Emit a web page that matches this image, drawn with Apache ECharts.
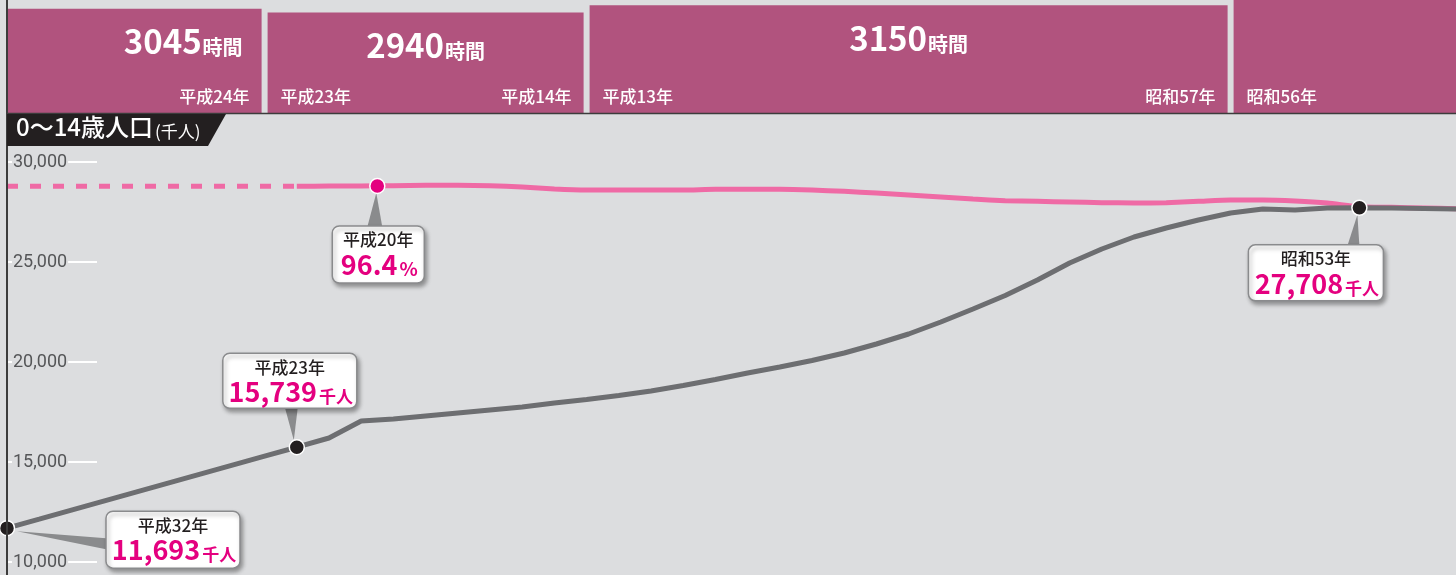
<!DOCTYPE html>
<html lang="ja">
<head>
<meta charset="UTF-8">
<title>0～14歳人口と授業時数</title>
<script src="https://cdn.jsdelivr.net/npm/echarts@6/dist/echarts.min.js"></script>
<style>
    html, body { margin: 0; padding: 0; background: #dcdddf; }
    #main { width: 1456px; height: 575px; }
</style>
</head>
<body>
<div id="main"></div>
<script>
// 0～14歳人口（千人）左が新しい年
var popYears = [2020, 2019, 2018, 2017, 2016, 2015, 2014, 2013, 2012, 2011,
    2010, 2009, 2008, 2007, 2006, 2005, 2004, 2003, 2002, 2001,
    2000, 1999, 1998, 1997, 1996, 1995, 1994, 1993, 1992, 1991,
    1990, 1989, 1988, 1987, 1986, 1985, 1984, 1983, 1982, 1981,
    1980, 1979, 1978, 1977, 1976, 1975];
var popValues = [11693, 12140, 12590, 13040, 13490, 13940, 14390, 14840, 15290, 15739,
    16200, 17050, 17150, 17300, 17450, 17600, 17750, 17950, 18125, 18325,
    18550, 18825, 19125, 19450, 19750, 20075, 20450, 20900, 21400, 22000,
    22650, 23325, 24100, 24950, 25650, 26250, 26700, 27100, 27450, 27650,
    27600, 27700, 27708, 27700, 27675, 27650];

// ピンクの線（%）実績
var rateYears = [2011, 2010, 2009, 2008, 2007, 2006, 2005, 2004, 2003, 2002,
    2001, 2000, 1999, 1998, 1997, 1996, 1995, 1994, 1993, 1992,
    1991, 1990, 1989, 1988, 1987, 1986, 1985, 1984, 1983, 1982,
    1981, 1980, 1979, 1978, 1977, 1976, 1975];
var rateValues = [96.35, 96.4, 96.4, 96.45, 96.5, 96.5, 96.45, 96.25, 95.95, 95.8,
    95.8, 95.8, 95.8, 95.9, 95.9, 95.9, 95.8, 95.6, 95.35, 95.05,
    94.75, 94.45, 94.2, 94.1, 94.0, 93.9, 93.85, 93.9, 94.1, 94.3,
    94.3, 94.15, 93.85, 93.3, 93.2, 93.1, 93.0];
// 点線部分
var rateProjYears = [2020, 2011];
var rateProjValues = [96.35, 96.35];

// 吹き出し
var popMarkYears = [2020, 2011, 1978];
var popMarkValues = [11693, 15739, 27708];
var popMarkNames = ['平成32年', '平成23年', '昭和53年'];
var rateMarkYears = [2008.5];
var rateMarkValues = [96.4];
var rateMarkNames = ['平成20年'];

// 授業時数の期間
var periodStart = [2021, 2012, 2002, 1982];
var periodEnd = [2012, 2002, 1982, 1972];
var periodHours = [3045, 2940, 3150, 3535];
var periodFrom = ['', '平成23年', '平成13年', '昭和56年'];
var periodTo = ['平成24年', '平成14年', '昭和57年', ''];
var periodShowHours = [true, true, true, false];
var periodAlign = ['right', 'center', 'center', 'center'];

var FONT = '"Noto Sans CJK JP", "Noto Sans", sans-serif';
var PINK = '#ef6aa5';
var MAGENTA = '#e4007f';
var GRAY = '#6d6e71';

function fmt(v) { return v.toLocaleString('en-US'); }
function pairs(xs, ys) { return xs.map(function (x, i) { return [x, ys[i]]; }); }

// 吹き出しの配置（点からのずれ）
var popCallout = [
    {dx: 99, dy: -17, w: 134, h: 57, tip: [[10, 3], [99, 10], [99, 21]]},
    {dx: -74, dy: -94, w: 134, h: 55, tip: [[-3, -7], [-12, -40], [1, -40]]},
    {dx: -111, dy: 37, w: 135, h: 56, tip: [[-2, 7], [-12, 38], [0, 38]]}
];
var rateCallout = [
    {dx: -45, dy: 40, w: 92, h: 57, tip: [[-1, 7], [-10, 41], [5, 41]]}
];

function makeCallout(names, layouts, numFmt, unit, unitSize) {
    return function (params, api) {
        var i = params.dataIndex;
        var v = api.value(1);
        var pt = api.coord([api.value(0), v]);
        var L = layouts[i];
        var left = pt[0] + L.dx, top = pt[1] + L.dy;
        var cx = left + L.w / 2;
        var tri = L.tip.map(function (p) { return [pt[0] + p[0], pt[1] + p[1]]; });
        return {
            type: 'group',
            children: [
                {type: 'polygon', shape: {points: tri}, style: {fill: '#8a8b8d'}},
                {type: 'rect', shape: {x: left, y: top, width: L.w, height: L.h, r: 7},
                    style: {fill: '#fff', stroke: '#8a8b8d', lineWidth: 1.5,
                        shadowBlur: 4, shadowOffsetX: 2, shadowOffsetY: 3, shadowColor: 'rgba(0,0,0,0.35)'}},
                {type: 'text', style: {text: names[i], x: cx, y: top + 14, align: 'center', verticalAlign: 'middle',
                    fill: '#231f20', font: '500 17px ' + FONT}},
                {type: 'text', style: {
                    text: '{n|' + numFmt(v) + '}{u|' + unit + '}', x: cx + 1, y: top + 39,
                    align: 'center', verticalAlign: 'middle',
                    rich: {
                        n: {fontSize: 27, fontWeight: 'bold', fontFamily: FONT, fill: MAGENTA, lineHeight: 30},
                        u: {fontSize: unitSize, fontWeight: 'bold', fontFamily: FONT, fill: MAGENTA, lineHeight: 30,
                            verticalAlign: 'bottom', padding: [0, 0, 2, 2]}
                    }
                }}
            ]
        };
    };
}

function renderPeriod(params, api) {
    var i = params.dataIndex;
    var cs = params.coordSys;
    var pTop = api.coord([api.value(0), api.value(2)]);
    var pEnd = api.coord([api.value(1), 0]);
    var x0 = pTop[0] + 3, x1 = pEnd[0] - 3;
    var top = pTop[1], bottom = pEnd[1];
    var vx0 = Math.max(x0, cs.x), vx1 = Math.min(x1, cs.x + cs.width);
    var vTop = Math.max(top, cs.y);
    var children = [
        {type: 'rect', shape: {x: vx0, y: vTop, width: vx1 - vx0, height: bottom - vTop},
            style: {fill: '#b1537e'}}
    ];
    if (periodShowHours[i]) {
        var align = periodAlign[i];
        var tx = align === 'right' ? vx1 - 19 : (x0 + x1) / 2;
        children.push({type: 'text', style: {
            text: '{n|' + api.value(2) + '}{u|時間}', x: tx, y: top + 33, align: align, verticalAlign: 'middle',
            rich: {
                n: {fontSize: 33, fontWeight: 'bold', fontFamily: FONT, fill: '#fff', lineHeight: 36},
                u: {fontSize: 20, fontWeight: 'bold', fontFamily: FONT, fill: '#fff', lineHeight: 36,
                    verticalAlign: 'bottom', padding: [0, 0, 2, 1]}
            }
        }});
    }
    if (periodFrom[i]) {
        children.push({type: 'text', style: {text: periodFrom[i], x: x0 + 13, y: bottom - 17,
            align: 'left', verticalAlign: 'middle', fill: '#fff', font: '500 17px ' + FONT}});
    }
    if (periodTo[i]) {
        children.push({type: 'text', style: {text: periodTo[i], x: x1 - 12, y: bottom - 17,
            align: 'right', verticalAlign: 'middle', fill: '#fff', font: '500 17px ' + FONT}});
    }
    return {type: 'group', children: children};
}

var periodData = periodStart.map(function (s, i) { return [s, periodEnd[i], periodHours[i]]; });

var chart = echarts.init(document.getElementById('main'));
chart.setOption({
    backgroundColor: '#dcdddf',
    animation: false,
    grid: [
        {left: 7, right: 0, top: 162, bottom: 13, outerBoundsMode: 'none'},
        {left: 7, right: 0, top: 0, height: 114, outerBoundsMode: 'none'}
    ],
    xAxis: [
        {type: 'value', gridIndex: 0, min: 1975, max: 2020, inverse: true, show: false},
        {type: 'value', gridIndex: 1, min: 1975, max: 2020, inverse: true, show: false}
    ],
    yAxis: [
        {
            type: 'value', gridIndex: 0, min: 10000, max: 30000, interval: 5000,
            axisLine: {show: true, lineStyle: {color: '#3c3c3c', width: 2}},
            axisTick: {show: true, inside: true, length: 90, lineStyle: {color: '#ffffff', width: 2}},
            axisLabel: {
                inside: true, margin: 5, color: '#555658', fontSize: 18,
                fontFamily: '"Liberation Sans Narrow", Roboto, sans-serif',
                backgroundColor: '#dcdddf', padding: [0, 1],
                formatter: function (v) { return fmt(v); }
            },
            splitLine: {show: false}
        },
        {type: 'value', gridIndex: 0, min: 40, max: 100, show: false},
        {type: 'value', gridIndex: 1, min: 0, max: 3300, show: false}
    ],
    graphic: [
        {type: 'line', shape: {x1: 7, y1: 0, x2: 7, y2: 575}, style: {stroke: '#3c3c3c', lineWidth: 2}, z: 20},
        {type: 'line', shape: {x1: 7, y1: 113.5, x2: 1456, y2: 113.5}, style: {stroke: '#3c3c3c', lineWidth: 1.5}, z: 20},
        {type: 'polygon', shape: {points: [[7, 114], [226, 114], [208, 146], [7, 146]]}, style: {fill: '#231f20'}, z: 20},
        {type: 'text', left: 16, top: 115, z: 21, style: {
            text: '{a|0～14歳人口}{b|(千人)}',
            rich: {
                a: {fontSize: 24, fontWeight: 500, fontFamily: FONT, fill: '#fff', lineHeight: 32},
                b: {fontSize: 17, fontFamily: FONT, fill: '#fff', lineHeight: 32, verticalAlign: 'bottom',
                    padding: [0, 0, 3, 2]}
            }
        }}
    ],
    series: [
        {
            type: 'custom', xAxisIndex: 1, yAxisIndex: 2, renderItem: renderPeriod,
            encode: {x: [0, 1], y: 2}, data: periodData, z: 1
        },
        {
            type: 'line', xAxisIndex: 0, yAxisIndex: 1, data: pairs(rateProjYears, rateProjValues),
            symbol: 'none', lineStyle: {color: PINK, width: 5, type: [11, 12]}, z: 2
        },
        {
            type: 'line', xAxisIndex: 0, yAxisIndex: 1, data: pairs(rateYears, rateValues),
            symbol: 'none', smooth: 0.2, lineStyle: {color: PINK, width: 5}, z: 2
        },
        {
            type: 'line', xAxisIndex: 0, yAxisIndex: 0, data: pairs(popYears, popValues),
            symbol: 'none', lineStyle: {color: GRAY, width: 5}, z: 3
        },
        {
            type: 'custom', xAxisIndex: 0, yAxisIndex: 0, encode: {x: 0, y: 1},
            data: pairs(popMarkYears, popMarkValues),
            renderItem: makeCallout(popMarkNames, popCallout, fmt, '千人', 17), z: 4
        },
        {
            type: 'custom', xAxisIndex: 0, yAxisIndex: 1, encode: {x: 0, y: 1},
            data: pairs(rateMarkYears, rateMarkValues),
            renderItem: makeCallout(rateMarkNames, rateCallout, function (v) { return v.toFixed(1); }, '%', 19), z: 4
        },
        {
            type: 'scatter', xAxisIndex: 0, yAxisIndex: 0, data: pairs(popMarkYears, popMarkValues),
            symbolSize: 15, itemStyle: {color: '#231f20', opacity: 1, borderColor: '#fff', borderWidth: 1.5}, z: 6
        },
        {
            type: 'scatter', xAxisIndex: 0, yAxisIndex: 1, data: pairs(rateMarkYears, rateMarkValues),
            symbolSize: 15, itemStyle: {color: MAGENTA, opacity: 1, borderColor: '#fff', borderWidth: 1.5}, z: 6
        }
    ]
});
</script>
</body>
</html>
